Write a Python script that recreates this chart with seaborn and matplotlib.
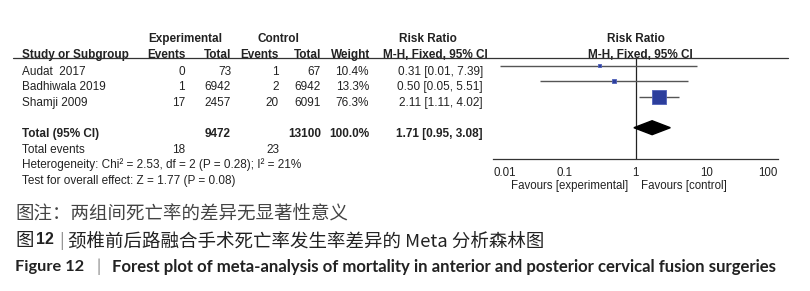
import numpy as np
import matplotlib
matplotlib.use("Agg")
import matplotlib.pyplot as plt
import seaborn as sns
from matplotlib.lines import Line2D
from matplotlib import transforms

sns.set_style("white")
plt.rcParams['font.family'] = ['Liberation Sans', 'DejaVu Sans']

# study data
studies = ["Audat  2017", "Badhiwala 2019", "Shamji 2009"]
exp_events = [0, 1, 17]
exp_total = [73, 6942, 2457]
ctl_events = [1, 2, 20]
ctl_total = [67, 6942, 6091]
weight = [10.4, 13.3, 76.3]
rr = [0.31, 0.50, 2.11]
ci_low = [0.0127, 0.0454, 1.11]
ci_high = [7.39, 5.51, 4.02]

# pooled result
tot_exp, tot_ctl = 9472, 13100
tot_ev_exp, tot_ev_ctl = 18, 23
tot_rr, tot_low, tot_high = 1.71, 0.95, 3.08
chi2, df_het, p_het, i2 = 2.53, 2, 0.28, 21
z_val, p_z = 1.77, 0.08

ticks = [0.01, 0.1, 1, 10, 100]
tick_labels = ["0.01", "0.1", "1", "10", "100"]

W, H = 810, 291
fig = plt.figure(figsize=(W / 100, H / 100), dpi=100)
ax = fig.add_axes([493 / W, 1 - 159 / H, (778 - 493) / W, (159 - 58) / H])

rows = np.arange(len(studies))
total_row = 4

# CI lines + weighted squares
ax.hlines(rows, ci_low, ci_high, color="#555555", lw=1.0)
w = np.array(weight)
sizes = (10.1 * (w / w.max()) ** 0.75) ** 2
sns.scatterplot(x=rr, y=rows, s=sizes, marker="s", color="#2c3e9c",
                edgecolor="#4f60b8", linewidth=0.6, ax=ax, legend=False, zorder=3)

# pooled diamond
dh = 0.45
ax.fill([tot_low, tot_rr, tot_high, tot_rr], [total_row, total_row - dh, total_row, total_row + dh],
        color="black", zorder=3)

ax.axvline(1, color="#222222", lw=0.9, zorder=1)
ax.set_xscale("log")
ax.set_xlim(0.01, 100)
ax.set_ylim(6.02, -0.5)
ax.set_xticks(ticks)
ax.set_xticklabels(tick_labels)
ax.minorticks_off()
ax.set_yticks([])
for s in ["left", "right", "top"]:
    ax.spines[s].set_visible(False)
ax.spines["bottom"].set_color("#333333")
ax.spines["bottom"].set_linewidth(0.9)
ax.tick_params(axis="x", direction="inout", length=4.5, width=0.9, color="#333333",
               labelsize=8.3, labelcolor="#222222", pad=3.5)
labs = ax.get_xticklabels()
labs[0].set_ha("left")
labs[-1].set_ha("right")
ax.set_facecolor("none")

# table text
tr = transforms.blended_transform_factory(fig.transFigure, ax.transData)
fs = 8.5
col = "#222222"


def txt(x, y, s, ha="left", bold=False, size=fs):
    ax.text(x / W, y, s, transform=tr, ha=ha, va="center", fontsize=size,
            fontweight="bold" if bold else "normal", color=col, clip_on=False)


off = 0.38
y_h1, y_h2 = -1.75, -0.72
txt(185, y_h1, "Experimental", ha="center", bold=True)
txt(278, y_h1, "Control", ha="center", bold=True)
txt(428, y_h1, "Risk Ratio", ha="center", bold=True)
txt(22, y_h2, "Study or Subgroup", bold=True)
txt(186, y_h2, "Events", ha="right", bold=True)
txt(231, y_h2, "Total", ha="right", bold=True)
txt(279, y_h2, "Events", ha="right", bold=True)
txt(321, y_h2, "Total", ha="right", bold=True)
txt(370, y_h2, "Weight", ha="right", bold=True)
txt(488, y_h2, "M-H, Fixed, 95% CI", ha="right", bold=True)
ax.text(636 / W, y_h1, "Risk Ratio", transform=tr, ha="center", va="center", fontsize=fs,
        fontweight="bold", color=col, clip_on=False)
ax.text(640 / W, y_h2, "M-H, Fixed, 95% CI", transform=tr, ha="center", va="center", fontsize=fs,
        fontweight="bold", color=col, clip_on=False)

for i, name in enumerate(studies):
    y = rows[i] + off
    txt(22, y, name)
    txt(185, y, str(exp_events[i]), ha="right")
    txt(231, y, str(exp_total[i]), ha="right")
    txt(279, y, str(ctl_events[i]), ha="right")
    txt(321, y, str(ctl_total[i]), ha="right")
    txt(369, y, f"{weight[i]:.1f}%", ha="right")
    txt(483, y, f"{rr[i]:.2f} [{ci_low[i]:.2f}, {ci_high[i]:.2f}]", ha="right")

y = total_row + off
txt(22, y, "Total (95% CI)", bold=True)
txt(231, y, str(tot_exp), ha="right", bold=True)
txt(321, y, str(tot_ctl), ha="right", bold=True)
txt(369, y, f"{sum(weight):.1f}%", ha="right", bold=True)
txt(483, y, f"{tot_rr:.2f} [{tot_low:.2f}, {tot_high:.2f}]", ha="right", bold=True)
txt(22, 5.41, "Total events")
txt(185, 5.41, str(tot_ev_exp), ha="right")
txt(279, 5.41, str(tot_ev_ctl), ha="right")
txt(22, 6.37, f"Heterogeneity: Chi\u00b2 = {chi2:.2f}, df = {df_het} (P = {p_het:.2f}); I\u00b2 = {i2}%")
txt(22, 7.47, f"Test for overall effect: Z = {z_val:.2f} (P = {p_z:.2f})")

ax.text(628 / W, 7.79, "Favours [experimental]", transform=tr, ha="right", va="center",
        fontsize=8.3, color=col, clip_on=False)
ax.text(641 / W, 7.79, "Favours [control]", transform=tr, ha="left", va="center",
        fontsize=8.3, color=col, clip_on=False)

# header rule
fig.add_artist(Line2D([13 / W, 788 / W], [1 - 58 / H] * 2, transform=fig.transFigure,
                      color="#333333", lw=0.9))

# captions
cjk = ['Noto Sans CJK SC', 'DejaVu Sans']
cfs = 13.3
fig.text(15 / W, 1 - 215 / H, "图注：两组间死亡率的差异无显著性意义", family=cjk, fontsize=cfs,
         color="#444444", va="center")
fig.text(15 / W, 1 - 241 / H, "图", family=cjk, fontsize=cfs, color="#222222", va="center")
fig.text(36 / W, 1 - 240 / H, "12", family=['Liberation Sans', 'DejaVu Sans'], fontsize=11.5,
         fontweight="bold", color="#222222", va="center")
fig.text(62 / W, 1 - 241 / H, "|", family=cjk, fontsize=12, color="#888888", va="center", ha="center")
fig.text(68 / W, 1 - 241 / H, "颈椎前后路融合手术死亡率发生率差异的 Meta 分析森林图", family=cjk,
         fontsize=cfs, color="#222222", va="center")
lato = ['Lato', 'DejaVu Sans']
fig.text(15 / W, 1 - 267 / H, "Figure 12", family=lato, fontsize=11.8,
         fontweight="bold", color="#222222", va="center")
fig.text(99 / W, 1 - 267 / H, "|", family=lato, fontsize=12,
         color="#888888", va="center", ha="center")
fig.text(112 / W, 1 - 267 / H,
         "Forest plot of meta-analysis of mortality in anterior and posterior cervical fusion surgeries",
         family=lato, fontsize=12.1, fontweight="bold", color="#222222", va="center")

fig.savefig("out.png", dpi=100)
